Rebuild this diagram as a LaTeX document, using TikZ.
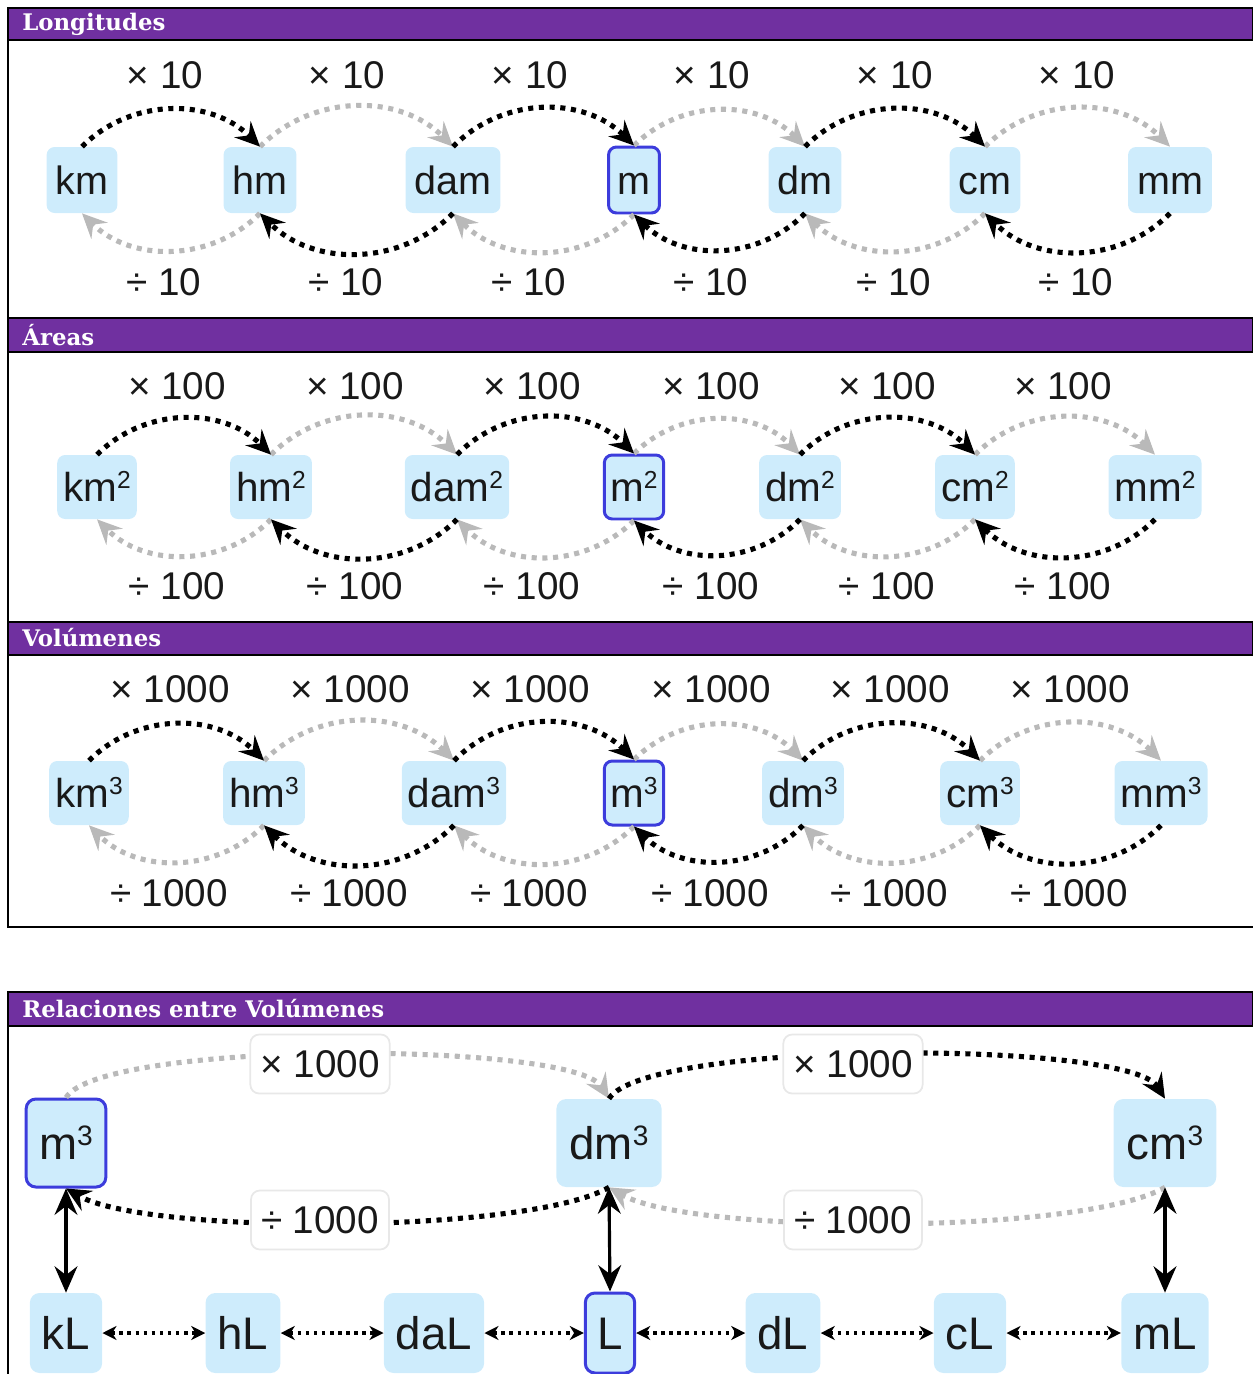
\documentclass[tikz,border=0pt]{standalone}
\usepackage{fontspec}
\setmainfont{Liberation Sans}
\newfontfamily\headfont{DejaVu Serif}
\usetikzlibrary{arrows.meta}
\definecolor{hdrpurple}{RGB}{112,48,160}
\definecolor{unitblue}{RGB}{206,236,252}
\definecolor{mainblue}{RGB}{60,60,220}
\definecolor{ink}{RGB}{25,25,25}
\definecolor{arcgray}{RGB}{185,185,185}
\definecolor{boxedge}{RGB}{232,232,232}
\newcommand\pow[2][14]{\raisebox{0.3em}{\fontsize{#1}{#1}\selectfont #2}}
\begin{document}
\begin{tikzpicture}[x=0.02cm, y=0.02cm,
        unit/.style={fill=unitblue, rounded corners=4.5pt, text=ink, inner xsep=0.18cm, inner ysep=0pt,
            minimum height=1.32cm, text height=16pt, text depth=0pt, font=\fontsize{22.5}{27}\selectfont},
        unitsq/.style={unit, inner xsep=0.12cm, minimum height=1.28cm, font=\fontsize{23}{27}\selectfont},
        unitbig/.style={unit, rounded corners=5.5pt, inner xsep=0.26cm, minimum height=1.76cm, text height=18.5pt,
            font=\fontsize{26}{30}\selectfont},
        unitlit/.style={unitbig, inner xsep=0.24cm, minimum height=1.6cm},
        mainunit/.style={draw=mainblue, line width=1.7pt},
        rate/.style={text=ink, inner sep=0pt, text height=15.8pt, text depth=0pt, font=\fontsize{22}{26}\selectfont},
        ratebox/.style={rate, fill=white, draw=boxedge, line width=1pt, rounded corners=5pt, inner xsep=0.2cm,
            minimum height=1.18cm},
        blk/.style={line width=2.9pt, dash pattern=on 2.9pt off 3.2pt, -{Stealth[length=14pt,width=13pt,inset=5pt]}},
        gry/.style={blk, arcgray},
        vbi/.style={line width=1.8pt, {Stealth[length=15pt,width=13pt,inset=5pt]}-{Stealth[length=15pt,width=13pt,inset=5pt]}},
        lnk/.style={line width=2.2pt, dash pattern=on 2pt off 2.6pt, {Stealth[length=8pt,width=8pt,inset=2.5pt]}-{Stealth[length=8pt,width=8pt,inset=2.5pt]}},
        hdr/.style={fill=hdrpurple, draw=black, line width=1pt},
        htext/.style={anchor=west, text=white, inner sep=0pt, font=\headfont\bfseries\fontsize{13}{16}\selectfont},
        frame/.style={line width=1.3pt}]
    \useasboundingbox (0,0) rectangle (1253,-1374);

    % frames and headers
    \draw[frame] (8,-8) -- (8,-927) -- (1253,-927);
    \draw[frame] (8,-992) -- (8,-1374);
    \draw[hdr] (8,-8) rectangle (1253,-40);
    \draw[hdr] (8,-318) rectangle (1253,-352);
    \draw[hdr] (8,-622) rectangle (1253,-655);
    \draw[hdr] (8,-992) rectangle (1253,-1026);
    \node[htext] (h1) at (22,-24) {Longitudes};
    \node[htext] (h2) at (22,-335) {Áreas};
    \node[htext] (h3) at (22,-638) {Volúmenes};
    \node[htext] (h4) at (22,-1009) {Relaciones entre Volúmenes};

    % longitudes
    \node[unit] (km) at (82,-180) {km};
    \node[unit] (hm) at (260,-180) {hm};
    \node[unit] (dam) at (453,-180) {dam};
    \node[unit, mainunit] (m) at (634,-180) {m};
    \node[unit] (dm) at (805,-180) {dm};
    \node[unit] (cm) at (985,-180) {cm};
    \node[unit] (mm) at (1170,-180) {mm};
    \draw[gry] (hm.north) to[bend left=45] (dam.north);
    \draw[gry] (m.north) to[bend left=45] (dm.north);
    \draw[gry] (cm.north) to[bend left=45] (mm.north);
    \draw[gry] (hm.south) to[bend left=45] (km.south);
    \draw[gry] (m.south) to[bend left=45] (dam.south);
    \draw[gry] (cm.south) to[bend left=45] (dm.south);
    \draw[blk] (km.north) to[bend left=45] (hm.north);
    \draw[blk] (dam.north) to[bend left=45] (m.north);
    \draw[blk] (dm.north) to[bend left=45] (cm.north);
    \draw[blk] (dam.south) to[bend left=45] (hm.south);
    \draw[blk] (dm.south) to[bend left=45] (m.south);
    \draw[blk] (mm.south) to[bend left=45] (cm.south);
    \node[rate] (lx1) at (165,-75) {× 10};
    \node[rate] (lx2) at (347,-75) {× 10};
    \node[rate] (lx3) at (530,-75) {× 10};
    \node[rate] (lx4) at (712,-75) {× 10};
    \node[rate] (lx5) at (895,-75) {× 10};
    \node[rate] (lx6) at (1077,-75) {× 10};
    \node[rate] (ld1) at (164,-282) {÷ 10};
    \node[rate] (ld2) at (346,-282) {÷ 10};
    \node[rate] (ld3) at (529,-282) {÷ 10};
    \node[rate] (ld4) at (711,-282) {÷ 10};
    \node[rate] (ld5) at (894,-282) {÷ 10};
    \node[rate] (ld6) at (1076,-282) {÷ 10};

    % areas
    \node[unitsq] (km2) at (97,-487) {km\pow{2}};
    \node[unitsq] (hm2) at (271,-487) {hm\pow{2}};
    \node[unitsq] (dam2) at (457,-487) {dam\pow{2}};
    \node[unitsq, mainunit] (m2) at (634,-487) {m\pow{2}};
    \node[unitsq] (dm2) at (800,-487) {dm\pow{2}};
    \node[unitsq] (cm2) at (975,-487) {cm\pow{2}};
    \node[unitsq] (mm2) at (1155,-487) {mm\pow{2}};
    \draw[gry] (hm2.north) to[bend left=45] (dam2.north);
    \draw[gry] (m2.north) to[bend left=45] (dm2.north);
    \draw[gry] (cm2.north) to[bend left=45] (mm2.north);
    \draw[gry] (hm2.south) to[bend left=45] (km2.south);
    \draw[gry] (m2.south) to[bend left=45] (dam2.south);
    \draw[gry] (cm2.south) to[bend left=45] (dm2.south);
    \draw[blk] (km2.north) to[bend left=45] (hm2.north);
    \draw[blk] (dam2.north) to[bend left=45] (m2.north);
    \draw[blk] (dm2.north) to[bend left=45] (cm2.north);
    \draw[blk] (dam2.south) to[bend left=45] (hm2.south);
    \draw[blk] (dm2.south) to[bend left=45] (m2.south);
    \draw[blk] (mm2.south) to[bend left=45] (cm2.south);
    \node[rate] (ax1) at (177,-386) {× 100};
    \node[rate] (ax2) at (355,-386) {× 100};
    \node[rate] (ax3) at (532,-386) {× 100};
    \node[rate] (ax4) at (711,-386) {× 100};
    \node[rate] (ax5) at (887,-386) {× 100};
    \node[rate] (ax6) at (1063,-386) {× 100};
    \node[rate] (ad1) at (177,-586) {÷ 100};
    \node[rate] (ad2) at (355,-586) {÷ 100};
    \node[rate] (ad3) at (532,-586) {÷ 100};
    \node[rate] (ad4) at (711,-586) {÷ 100};
    \node[rate] (ad5) at (887,-586) {÷ 100};
    \node[rate] (ad6) at (1063,-586) {÷ 100};

    % volumenes
    \node[unitsq] (km3) at (89,-793) {km\pow{3}};
    \node[unitsq] (hm3) at (264,-793) {hm\pow{3}};
    \node[unitsq] (dam3) at (454,-793) {dam\pow{3}};
    \node[unitsq, mainunit] (m3) at (634,-793) {m\pow{3}};
    \node[unitsq] (dm3) at (803,-793) {dm\pow{3}};
    \node[unitsq] (cm3) at (980,-793) {cm\pow{3}};
    \node[unitsq] (mm3) at (1161,-793) {mm\pow{3}};
    \draw[gry] (hm3.north) to[bend left=45] (dam3.north);
    \draw[gry] (m3.north) to[bend left=45] (dm3.north);
    \draw[gry] (cm3.north) to[bend left=45] (mm3.north);
    \draw[gry] (hm3.south) to[bend left=45] (km3.south);
    \draw[gry] (m3.south) to[bend left=45] (dam3.south);
    \draw[gry] (cm3.south) to[bend left=45] (dm3.south);
    \draw[blk] (km3.north) to[bend left=45] (hm3.north);
    \draw[blk] (dam3.north) to[bend left=45] (m3.north);
    \draw[blk] (dm3.north) to[bend left=45] (cm3.north);
    \draw[blk] (dam3.south) to[bend left=45] (hm3.south);
    \draw[blk] (dm3.south) to[bend left=45] (m3.south);
    \draw[blk] (mm3.south) to[bend left=45] (cm3.south);
    \node[rate] (vx1) at (170,-689) {× 1000};
    \node[rate] (vx2) at (350,-689) {× 1000};
    \node[rate] (vx3) at (530,-689) {× 1000};
    \node[rate] (vx4) at (711,-689) {× 1000};
    \node[rate] (vx5) at (890,-689) {× 1000};
    \node[rate] (vx6) at (1070,-689) {× 1000};
    \node[rate] (vd1) at (169,-893) {÷ 1000};
    \node[rate] (vd2) at (349,-893) {÷ 1000};
    \node[rate] (vd3) at (529,-893) {÷ 1000};
    \node[rate] (vd4) at (710,-893) {÷ 1000};
    \node[rate] (vd5) at (889,-893) {÷ 1000};
    \node[rate] (vd6) at (1069,-893) {÷ 1000};

    % relaciones
    \node[unitbig, mainunit] (vm3) at (66,-1143) {m\pow[16]{3}};
    \node[unitbig] (vdm3) at (609,-1143) {dm\pow[16]{3}};
    \node[unitbig] (vcm3) at (1165,-1143) {cm\pow[16]{3}};
    \node[unitlit] (kL) at (66,-1333) {kL};
    \node[unitlit] (hL) at (243,-1333) {hL};
    \node[unitlit] (daL) at (434,-1333) {daL};
    \node[unitlit, mainunit] (L) at (610,-1333) {L};
    \node[unitlit] (dL) at (783,-1333) {dL};
    \node[unitlit] (cL) at (970,-1333) {cL};
    \node[unitlit] (mL) at (1165,-1333) {mL};
    \draw[gry] (vm3.north) to[out=58, in=122, looseness=0.32] (vdm3.north);
    \draw[gry] (vcm3.south) to[out=-150, in=-30, looseness=0.44] (vdm3.south);
    \draw[blk] (vdm3.north) to[out=58, in=122, looseness=0.32] (vcm3.north);
    \draw[blk] (vdm3.south) to[out=-150, in=-30, looseness=0.44] (vm3.south);
    \node[ratebox] (rx1) at (320,-1064) {× 1000};
    \node[ratebox] (rx2) at (853,-1064) {× 1000};
    \node[ratebox] (rd1) at (320,-1220) {÷ 1000};
    \node[ratebox] (rd2) at (853,-1220) {÷ 1000};
    \draw[vbi] (vm3.south) -- (kL.north);
    \draw[vbi] (vdm3.south) -- (L.north);
    \draw[vbi] (vcm3.south) -- (mL.north);
    \draw[lnk] (kL) -- (hL);
    \draw[lnk] (hL) -- (daL);
    \draw[lnk] (daL) -- (L);
    \draw[lnk] (L) -- (dL);
    \draw[lnk] (dL) -- (cL);
    \draw[lnk] (cL) -- (mL);
\end{tikzpicture}
\end{document}
